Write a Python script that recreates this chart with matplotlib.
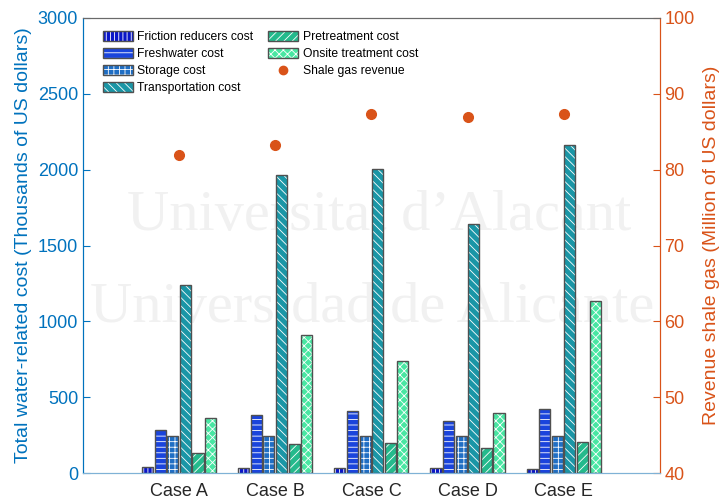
import numpy as np
import matplotlib
matplotlib.use("Agg")
import matplotlib.pyplot as plt
from matplotlib.patches import Patch
from matplotlib.lines import Line2D
from matplotlib.legend_handler import HandlerTuple

plt.rcParams['font.family'] = ['Liberation Sans', 'DejaVu Sans']
plt.rcParams['hatch.linewidth'] = 0.6

# Costes por caso (miles de USD)
cases = ['Case A', 'Case B', 'Case C', 'Case D', 'Case E']
friction = [40, 30, 30, 33, 25]
freshwater = [285, 385, 410, 340, 425]
storage = [245, 245, 245, 245, 245]
transport = [1240, 1963, 2005, 1640, 2165]
pretreatment = [135, 188, 197, 167, 205]
onsite = [363, 912, 738, 397, 1133]
# Ingresos del gas de esquisto (millones de USD)
revenue = [81.9, 83.3, 87.3, 86.9, 87.3]

series = [
    ('Friction reducers cost', friction, '#0a16c8', '||||'),
    ('Freshwater cost', freshwater, '#1a44dc', '---'),
    ('Storage cost', storage, '#1f6ec4', '+++'),
    ('Transportation cost', transport, '#1a96a6', '\\\\\\\\'),
    ('Pretreatment cost', pretreatment, '#24ba8c', '////'),
    ('Onsite treatment cost', onsite, '#48e6a2', 'xxxx'),
]

c_left = '#0072BD'
c_right = '#D95319'
edge = '#505050'

fig = plt.figure(figsize=(7.25, 5), dpi=100)
ax = fig.add_axes([0.1145, 0.054, 0.7955, 0.91])
ax2 = ax.twinx()

x = np.arange(1, len(cases) + 1)
slot = 0.131
width = 0.115
handles = []
for i, (name, vals, col, hatch) in enumerate(series):
    pos = x + (i - 2.5) * slot
    ax.bar(pos, vals, width, color=col, edgecolor='white', hatch=hatch,
           linewidth=0, zorder=2)
    ax.bar(pos, vals, width, fill=False, edgecolor=edge, linewidth=1.0, zorder=3)
    h1 = Patch(facecolor=col, edgecolor='white', hatch=hatch, linewidth=0)
    h2 = Patch(fill=False, edgecolor=edge, linewidth=1.0)
    handles.append(((h1, h2), name))

ax2.plot(x, revenue, 'o', color=c_right, markersize=7, linestyle='none')
handles.append((Line2D([], [], marker='o', color=c_right, markersize=6,
                       linestyle='none'), 'Shale gas revenue'))

ax.set_xlim(0, 6)
ax.set_ylim(0, 3000)
ax.set_yticks(np.arange(0, 3001, 500))
ax2.set_ylim(40, 100)
ax2.set_yticks(np.arange(40, 101, 10))
ax.set_xticks(x)
ax.set_xticklabels(cases)

ax.tick_params(axis='y', colors=c_left, labelsize=13, direction='in', length=5)
ax.tick_params(axis='x', labelsize=13, length=0, pad=7, labelcolor='#262626')
ax2.tick_params(axis='y', colors=c_right, labelsize=13, direction='in', length=5)

ax.set_ylabel('Total water-related cost (Thousands of US dollars)',
              color=c_left, fontsize=14, labelpad=4)
ax2.set_ylabel('Revenue shale gas (Million of US dollars)',
               color=c_right, fontsize=14, labelpad=6)

for a in (ax, ax2):
    a.spines['left'].set_color(c_left)
    a.spines['right'].set_color(c_right)
    a.spines['bottom'].set_color('#7fb2d6')
    a.spines['top'].set_color('#6a6a6a')
ax.patch.set_visible(False)

# Marca de agua de fondo
wm = dict(transform=fig.transFigure, family=['Liberation Serif', 'DejaVu Serif'],
          fontsize=42, color='#f1f1f1', zorder=0.5, va='baseline')
ax.text(0.175, 0.54, 'Universitat d\u2019Alacant', **wm)
ax.text(0.124, 0.356, 'Universidad de Alicante', **wm)

leg = ax2.legend([h for h, _ in handles], [n for _, n in handles],
                 handler_map={tuple: HandlerTuple(ndivide=1)},
                 loc='upper left', bbox_to_anchor=(0.02, 0.99), ncol=2,
                 frameon=False, fontsize=8.7, handlelength=2.5, handleheight=0.9,
                 handletextpad=0.35, columnspacing=1.2, labelspacing=0.4,
                 borderaxespad=0.3)

fig.savefig('out.png', dpi=100)
